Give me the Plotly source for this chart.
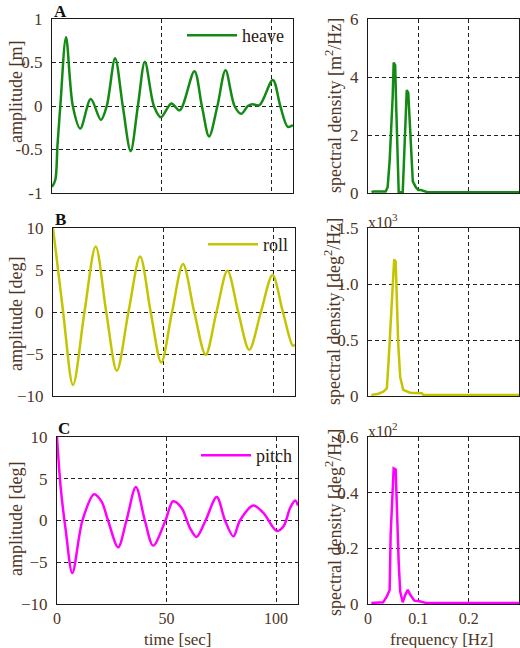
import plotly.graph_objects as go

# ---------------- data ----------------
heave_t = [0, 1.5, 2.5, 3.8, 6.4, 9.5, 12.9, 17.7, 22.3, 25.0, 28.8, 32.3, 35.9, 39.2, 42.4, 46.5,
           49.7, 54.5, 58.3, 65.0, 68.4, 71.7, 75.5, 79.2, 83.3, 86.4, 89.4, 91.4, 94.7, 100.8,
           104.2, 107.6, 110]
heave_y = [-0.93, -0.85, -0.45, 0.0, 0.79, 0.0, -0.26, 0.08, -0.16, 0.0, 0.55, 0.0, -0.52, 0.0,
           0.51, 0.0, -0.13, 0.03, -0.05, 0.40, 0.0, -0.35, 0.0, 0.41, 0.0, -0.09, 0.0, 0.02,
           0.01, 0.30, 0.0, -0.24, -0.22]

roll_t = [0, 4.6, 9.1, 14.3, 19.4, 24.2, 29.0, 34.3, 39.6, 44.4, 49.2, 54.1, 59.1, 64.2, 69.4,
          74.3, 79.3, 84.2, 89.2, 94.5, 99.8, 104.5, 109.0, 110]
roll_y = [10, 0, -8.7, 0, 7.8, 0, -7.0, 0, 6.6, 0, -6.0, 0, 5.7, 0, -5.1, 0, 4.9, 0, -4.5, 0,
          4.4, 0, -4.0, -3.9]

pitch_t = [0, 1.7, 4.0, 7.0, 11.6, 16.9, 20.3, 23.3, 27.9, 31.7, 36.0, 40.1, 43.9, 49.5, 53.0,
           56.9, 60.7, 63.7, 67.8, 72.9, 76.7, 80.5, 83.5, 89.6, 94.2, 100.3, 103.4, 106.4,
           108.7, 110]
pitch_y = [10, 3.9, -1.2, -6.3, 0, 3.15, 2.3, 0, -3.2, 0, 4.0, 0, -3.0, 0, 2.3, 1.5, -0.9,
           -1.97, 0, 2.8, 0, -1.9, 0, 1.8, 0.9, -1.26, -0.7, 1.5, 2.4, 1.8]

heave_f = [0.007, 0.01, 0.035, 0.039, 0.043, 0.046, 0.049, 0.051, 0.054, 0.056, 0.058, 0.061,
           0.069, 0.072, 0.074, 0.077, 0.080, 0.082, 0.086, 0.089, 0.095, 0.100, 0.105, 0.118, 0.30]
heave_s = [0.03, 0.05, 0.05, 0.2, 1.1, 2.0, 3.3, 4.5, 4.4, 3.0, 1.5, 0.03, 0.03, 1.25, 2.4,
           3.55, 3.45, 2.7, 1.25, 0.4, 0.2, 0.1, 0.1, 0.03, 0.03]

roll_f = [0.0066, 0.021, 0.031, 0.0375, 0.041, 0.045, 0.049, 0.052, 0.055, 0.057, 0.060, 0.064,
          0.070, 0.0836, 0.107, 0.11, 0.30]
roll_s = [0.01, 0.02, 0.04, 0.07, 0.32, 0.65, 1.0, 1.22, 1.2, 0.86, 0.47, 0.17, 0.054, 0.03,
          0.024, 0.01, 0.01]          # x10^3

pitch_f = [0.0066, 0.03, 0.0375, 0.043, 0.045, 0.049, 0.051, 0.055, 0.057, 0.058, 0.061, 0.064,
           0.069, 0.074, 0.079, 0.084, 0.092, 0.102, 0.115, 0.30]
pitch_s = [0.004, 0.006, 0.027, 0.05, 0.25, 0.385, 0.487, 0.483, 0.36, 0.25, 0.147, 0.045,
           0.006, 0.033, 0.051, 0.033, 0.012, 0.01, 0.004, 0.004]   # x10^2

time_ticks = [0, 50, 100]
freq_ticks = [0, 0.1, 0.2]
heave_ticks = [-1, -0.5, 0, 0.5, 1]
heave_ticktext = ["-1", "-0.5", "0", "0.5", "1"]
deg_ticks = [-10, -5, 0, 5, 10]
hs_ticks = [0, 2, 4, 6]
rs_ticks = [0, 0.5, 1.0, 1.5]
rs_ticktext = ["0", "0.5", "1.0", "1.5"]
ps_ticks = [0, 0.2, 0.4, 0.6]
ps_ticktext = ["0", "0.2", "0.4", "0.6"]

GREEN = "#138a13"
YELLOW = "#c4c400"
MAGENTA = "#ff00ff"
TXT = "#4d3524"
FONT = "Liberation Serif, Times New Roman, serif"

W, H = 520, 648


def fx(p):
    return p / W


def fy(p):
    return 1 - p / H


fig = go.Figure()

fig.add_trace(go.Scatter(x=heave_t, y=heave_y, mode="lines", name="heave",
                         line=dict(color=GREEN, width=2.5, shape="spline", smoothing=0.9),
                         xaxis="x", yaxis="y", legend="legend"))
fig.add_trace(go.Scatter(x=heave_f, y=heave_s, mode="lines", showlegend=False,
                         line=dict(color=GREEN, width=2.5), xaxis="x2", yaxis="y2"))
fig.add_trace(go.Scatter(x=roll_t, y=roll_y, mode="lines", name="roll",
                         line=dict(color=YELLOW, width=2.5, shape="spline", smoothing=0.9),
                         xaxis="x3", yaxis="y3", legend="legend2"))
fig.add_trace(go.Scatter(x=roll_f, y=roll_s, mode="lines", showlegend=False,
                         line=dict(color=YELLOW, width=2.5), xaxis="x4", yaxis="y4"))
fig.add_trace(go.Scatter(x=pitch_t, y=pitch_y, mode="lines", name="pitch",
                         line=dict(color=MAGENTA, width=2.5, shape="spline", smoothing=0.9),
                         xaxis="x5", yaxis="y5", legend="legend3"))
fig.add_trace(go.Scatter(x=pitch_f, y=pitch_s, mode="lines", showlegend=False,
                         line=dict(color=MAGENTA, width=2.5), xaxis="x6", yaxis="y6"))

rows = [(19, 193), (228, 396), (437, 604)]
left_x = [(52, 293), (53, 295), (57, 298)]
right_x = (368, 519)

common = dict(showline=True, mirror=True, linecolor="#1a1a1a", linewidth=1.2, automargin=False,
              showgrid=True, gridcolor="#222", gridwidth=1, griddash="4px,3px",
              zeroline=False, ticks="outside", ticklen=5, tickcolor="rgba(0,0,0,0)",
              tickfont=dict(family=FONT, size=17, color=TXT))

layout = {}
ydefs = [
    (dict(range=[-1, 1], tickvals=heave_ticks, ticktext=heave_ticktext),
     dict(range=[0, 6], tickvals=hs_ticks)),
    (dict(range=[-10, 10], tickvals=deg_ticks),
     dict(range=[0, 1.5], tickvals=rs_ticks, ticktext=rs_ticktext)),
    (dict(range=[-10, 10], tickvals=deg_ticks),
     dict(range=[0, 0.6], tickvals=ps_ticks, ticktext=ps_ticktext)),
]
xtickfont = dict(family=FONT, size=16, color=TXT)
for i in range(3):
    (t, b) = rows[i]
    lx = left_x[i]
    li = 2 * i + 1
    ri = 2 * i + 2
    ln = "" if li == 1 else str(li)
    rn = str(ri)
    last = i == 2
    layout["xaxis" + ln] = dict(common, domain=[fx(lx[0]), fx(lx[1])], anchor="y" + ln,
                                range=[0, 110], tickvals=time_ticks, showticklabels=last,
                                ticklen=0, tickfont=xtickfont)
    layout["yaxis" + ln] = dict(common, domain=[fy(b), fy(t)], anchor="x" + ln, **ydefs[i][0])
    layout["xaxis" + rn] = dict(common, domain=[fx(right_x[0]), fx(right_x[1])], anchor="y" + rn,
                                range=[0, 0.3], tickvals=freq_ticks, showticklabels=last,
                                ticklen=0, tickfont=xtickfont)
    layout["yaxis" + rn] = dict(common, domain=[fy(b), fy(t)], anchor="x" + rn, **ydefs[i][1])

legend_common = dict(bgcolor="rgba(0,0,0,0)", font=dict(family=FONT, size=18, color="#2a1a10"),
                     xanchor="right", yanchor="top", itemwidth=50, tracegroupgap=0)
layout["legend"] = dict(legend_common, x=fx(289), y=fy(17))
layout["legend2"] = dict(legend_common, x=fx(293), y=fy(226))
layout["legend3"] = dict(legend_common, x=fx(297), y=fy(437))

annotations = []


def ann(text, x, y, size=18, angle=0, xanchor="center", color=TXT):
    annotations.append(dict(text=text, x=fx(x), y=fy(y), xref="paper", yref="paper",
                            showarrow=False, textangle=angle, xanchor=xanchor, yanchor="middle",
                            font=dict(family=FONT, size=size, color=color)))


ann("amplitude [m]", 16, 92, angle=-90)
ann("amplitude [deg]", 16, 314, angle=-90)
ann("amplitude [deg]", 16, 519, angle=-90)
ann("spectral density [m<sup>2</sup>/Hz]", 333, 106, angle=-90)
ann("spectral density [deg<sup>2</sup>/Hz]", 333, 312, angle=-90)
ann("spectral density [deg<sup>2</sup>/Hz]", 333, 523, angle=-90)
ann("time [sec]", 178, 639, size=17)
ann("frequency [Hz]", 441, 639, size=17)
ann("<b>A</b>", 52, 12, size=17, xanchor="left", color="#111")
ann("<b>B</b>", 53, 219, size=17, xanchor="left", color="#111")
ann("<b>C</b>", 56, 428, size=17, xanchor="left", color="#111")
ann("x10<sup>3</sup>", 366, 221, size=16, xanchor="left")
ann("x10<sup>2</sup>", 366, 430, size=16, xanchor="left")

fig.update_layout(width=W, height=H, margin=dict(l=0, r=0, t=0, b=0, autoexpand=False),
                  paper_bgcolor="white", plot_bgcolor="white",
                  font=dict(family=FONT, color=TXT), annotations=annotations, **layout)

fig.write_html("out.html", config={"displayModeBar": False},
               post_script="document.body.style.margin='0';document.body.style.padding='0';")
